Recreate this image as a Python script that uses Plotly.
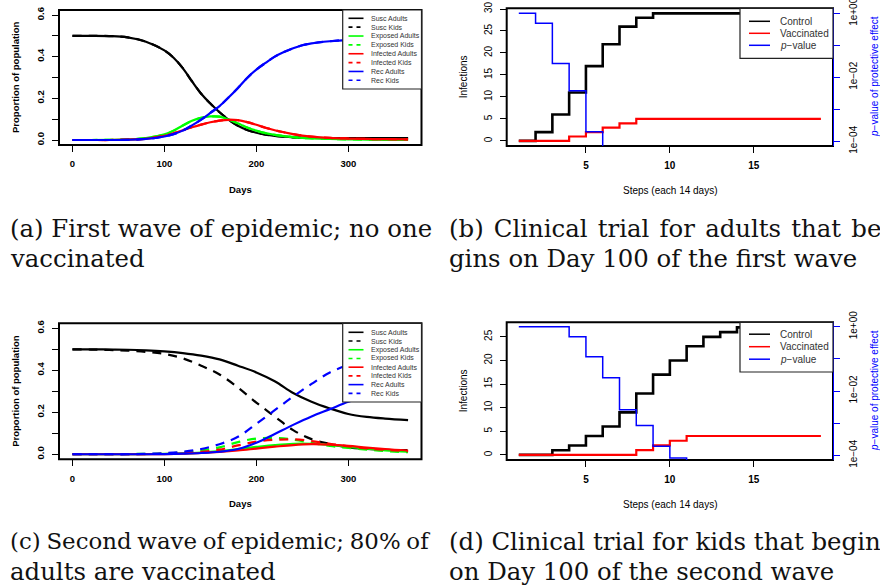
import plotly.graph_objects as go

W, H = 880, 586

# ---------------- data ----------------
# Panel (a): first wave, no one vaccinated (kids identical to adults)
days_a = [0, 20, 40, 60, 80, 100, 110, 120, 130, 140, 150, 160, 170, 180, 190,
          200, 210, 220, 230, 240, 250, 260, 280, 300, 320, 340, 365]
susc_a = [0.500, 0.500, 0.499, 0.493, 0.472, 0.430, 0.395, 0.345, 0.282, 0.222, 0.175,
          0.133, 0.097, 0.068, 0.048, 0.035, 0.026, 0.020, 0.016, 0.013, 0.011, 0.010,
          0.009, 0.009, 0.009, 0.009, 0.009]
expo_a = [0.0, 0.0, 0.001, 0.003, 0.009, 0.027, 0.045, 0.070, 0.092, 0.106, 0.113,
          0.112, 0.098, 0.080, 0.060, 0.045, 0.033, 0.025, 0.019, 0.014, 0.010, 0.008,
          0.005, 0.003, 0.002, 0.001, 0.001]
infe_a = [0.0, 0.0, 0.0, 0.002, 0.006, 0.020, 0.032, 0.047, 0.061, 0.074, 0.085,
          0.093, 0.097, 0.095, 0.086, 0.073, 0.059, 0.047, 0.037, 0.028, 0.021, 0.016,
          0.010, 0.007, 0.005, 0.004, 0.003]
rec_a = [0.0, 0.0, 0.0, 0.001, 0.005, 0.017, 0.028, 0.045, 0.070, 0.098, 0.130,
         0.163, 0.205, 0.250, 0.298, 0.338, 0.370, 0.400, 0.422, 0.440, 0.455, 0.464,
         0.474, 0.481, 0.485, 0.488, 0.490]

# Panel (c): second wave, 80% of adults vaccinated
days_c = [0, 20, 40, 60, 80, 100, 120, 140, 160, 180, 200, 220, 240, 260, 280, 300, 320, 340, 365]
susc_ad_c = [0.500, 0.500, 0.499, 0.498, 0.495, 0.490, 0.482, 0.470, 0.452, 0.422, 0.390,
             0.348, 0.292, 0.250, 0.218, 0.192, 0.178, 0.170, 0.163]
susc_kd_c = [0.500, 0.499, 0.497, 0.494, 0.488, 0.478, 0.457, 0.422, 0.380, 0.318, 0.246,
             0.180, 0.115, 0.072, 0.049, 0.033, 0.025, 0.021, 0.020]
expo_ad_c = [0.0, 0.0, 0.0, 0.0, 0.001, 0.002, 0.004, 0.008, 0.015, 0.025, 0.035,
             0.044, 0.050, 0.050, 0.045, 0.035, 0.027, 0.019, 0.013]
expo_kd_c = [0.0, 0.0, 0.0, 0.001, 0.002, 0.004, 0.009, 0.018, 0.033, 0.058, 0.075,
             0.078, 0.070, 0.055, 0.040, 0.030, 0.022, 0.015, 0.010]
infe_ad_c = [0.0, 0.0, 0.0, 0.0, 0.0, 0.001, 0.003, 0.006, 0.011, 0.018, 0.027,
             0.036, 0.044, 0.048, 0.046, 0.040, 0.032, 0.025, 0.018]
infe_kd_c = [0.0, 0.0, 0.0, 0.0, 0.001, 0.002, 0.005, 0.011, 0.022, 0.042, 0.060,
             0.069, 0.071, 0.063, 0.050, 0.038, 0.028, 0.021, 0.015]
rec_ad_c = [0.0, 0.0, 0.0, 0.0, 0.0, 0.001, 0.003, 0.006, 0.012, 0.025, 0.055,
            0.097, 0.140, 0.180, 0.215, 0.250, 0.280, 0.300, 0.316]
rec_kd_c = [0.0, 0.0, 0.0, 0.0, 0.002, 0.005, 0.012, 0.025, 0.048, 0.083, 0.145,
            0.210, 0.275, 0.335, 0.390, 0.425, 0.448, 0.460, 0.465]

# Panel (b): trial for adults, day 100 of first wave
steps = list(range(1, 20))
control_b = [0, 2, 6, 11, 17, 22, 26, 28, 29, 29, 29, 29, 29, 29, 29, 29, 29, 29, 29]
vacc_b = [0, 0, 0, 1, 2, 3, 4, 5, 5, 5, 5, 5, 5, 5, 5, 5, 5, 5, 5]
pstep_b = [1, 2, 3, 4, 5, 6]
pval_b = [1.0, 0.49, 0.027, 0.0038, 0.0002, 0.00001]

# Panel (d): trial for kids, day 100 of second wave
control_d = [0, 0, 1, 2, 4, 6, 9, 13, 17, 20, 23, 25, 26, 27, 27, 27, 27, 27, 27]
vacc_d = [0, 0, 0, 0, 0, 0, 0, 1, 2, 3, 4, 4, 4, 4, 4, 4, 4, 4, 4]
pstep_d = [1, 2, 3, 4, 5, 6, 7, 8, 9, 10, 11]
pval_d = [1.0, 1.0, 1.0, 0.49, 0.117, 0.026, 0.0026, 0.00085, 0.00019, 0.000083, 0.00001]

prop_ticks = [0, 0.1, 0.2, 0.3, 0.4, 0.5, 0.6]
prop_text = ['0.0', '', '0.2', '', '0.4', '', '0.6']
day_ticks = [0, 100, 200, 300]
step_ticks = [5, 10, 15]
pv_ticks = [1, 0.1, 0.01, 0.001, 0.0001]
pv_text = ['1e+00', '', '1e\u221202', '', '1e\u221204']

sir_legend = ['Susc Adults', 'Susc Kids', 'Exposed Adults', 'Exposed Kids',
              'Infected Adults', 'Infected Kids', 'Rec Adults', 'Rec Kids']
trial_legend = ['Control', 'Vaccinated', '<i>p</i>\u2212value']

captions = {
    'a': ['(a) First wave of epidemic; no one', 'vaccinated'],
    'b': ['(b) Clinical trial for adults that be-', 'gins on Day 100 of the first wave'],
    'c': ['(c) Second wave of epidemic; 80% of', 'adults are vaccinated'],
    'd': ['(d) Clinical trial for kids that begin', 'on Day 100 of the second wave'],
}
# inter-word space used to mimic the justified first caption lines
cap_space = {'a': ' ', 'b': ' \u200a', 'c': '\u2005', 'd': ' '}
cap_size1 = {'a': 24.4, 'b': 24.4, 'c': 22.9, 'd': 24.4}

# ---------------- styles ----------------
BLACK, RED, GREEN, BLUE = '#000000', '#ff0000', '#00ff00', '#0000ff'
SANS = 'Liberation Sans, Arial, sans-serif'
SERIF = 'DejaVu Serif, serif'
DASH = '9px,7px'


def dx(l, r):
    return [l / W, r / W]


def dy(t, b):
    return [1 - b / H, 1 - t / H]


fig = go.Figure()

# ---- panel (a) ----
sir_colors = [BLACK, BLACK, GREEN, GREEN, RED, RED, BLUE, BLUE]
series_a = [susc_a, susc_a, expo_a, expo_a, infe_a, infe_a, rec_a, rec_a]
for i, ys in enumerate(series_a):
    fig.add_trace(go.Scatter(x=days_a, y=ys, mode='lines', xaxis='x', yaxis='y',
                             line=dict(color=sir_colors[i], width=2.2, shape='spline',
                                       dash='solid' if i % 2 == 0 else DASH),
                             showlegend=False, hoverinfo='skip'))

# ---- panel (c) ----
series_c = [susc_ad_c, susc_kd_c, expo_ad_c, expo_kd_c, infe_ad_c, infe_kd_c, rec_ad_c, rec_kd_c]
for i, ys in enumerate(series_c):
    fig.add_trace(go.Scatter(x=days_c, y=ys, mode='lines', xaxis='x3', yaxis='y4',
                             line=dict(color=sir_colors[i], width=2.2, shape='spline',
                                       dash='solid' if i % 2 == 0 else DASH),
                             showlegend=False, hoverinfo='skip'))

# ---- panel (b) ----
fig.add_trace(go.Scatter(x=steps, y=control_b, mode='lines', xaxis='x2', yaxis='y2',
                         line=dict(color=BLACK, width=2.6, shape='hv'), showlegend=False))
fig.add_trace(go.Scatter(x=steps, y=vacc_b, mode='lines', xaxis='x2', yaxis='y2',
                         line=dict(color=RED, width=2.2, shape='hv'), showlegend=False))
fig.add_trace(go.Scatter(x=pstep_b, y=pval_b, mode='lines', xaxis='x2', yaxis='y3',
                         line=dict(color=BLUE, width=1.5, shape='hv'), showlegend=False))

# ---- panel (d) ----
fig.add_trace(go.Scatter(x=steps, y=control_d, mode='lines', xaxis='x4', yaxis='y5',
                         line=dict(color=BLACK, width=2.6, shape='hv'), showlegend=False))
fig.add_trace(go.Scatter(x=steps, y=vacc_d, mode='lines', xaxis='x4', yaxis='y5',
                         line=dict(color=RED, width=2.2, shape='hv'), showlegend=False))
fig.add_trace(go.Scatter(x=pstep_d, y=pval_d, mode='lines', xaxis='x4', yaxis='y6',
                         line=dict(color=BLUE, width=1.5, shape='hv'), showlegend=False))

common = dict(showgrid=False, zeroline=False, showline=False,
              ticks='outside', ticklen=6, tickwidth=1.2, tickcolor=BLACK,
              automargin=False, ticklabelstandoff=4)
bold9 = dict(family=SANS, size=9.5, color=BLACK, weight='bold')
reg10 = dict(family=SANS, size=10, color=BLACK)
bold10 = dict(family=SANS, size=10, color=BLACK, weight='bold')
right_common = dict(showgrid=False, zeroline=False, showline=True, linecolor=BLUE, linewidth=1.2,
                    ticks='outside', ticklen=6, tickwidth=1.2, tickcolor=BLUE, automargin=False,
                    ticklabelstandoff=5, ticklabeloverflow='allow')

layout = dict(
    width=W, height=H, margin=dict(l=0, r=0, t=0, b=0, autoexpand=False),
    paper_bgcolor='white', plot_bgcolor='white', showlegend=False,
    xaxis=dict(domain=dx(59, 421.5), range=[-14.6, 379.6], anchor='y', tickvals=day_ticks,
               tickfont=bold9, **common),
    yaxis=dict(domain=dy(10, 145), range=[-0.024, 0.624], anchor='x', tickvals=prop_ticks,
               ticktext=prop_text, tickangle=-90, tickfont=bold9, **common),
    xaxis3=dict(domain=dx(59, 421.5), range=[-14.6, 379.6], anchor='y4', tickvals=day_ticks,
                tickfont=bold9, **common),
    yaxis4=dict(domain=dy(323.3, 459.3), range=[-0.024, 0.624], anchor='x3', tickvals=prop_ticks,
                ticktext=prop_text, tickangle=-90, tickfont=bold9, **common),
    xaxis2=dict(domain=dx(506.7, 833), range=[0.28, 19.72], anchor='y2', tickvals=step_ticks,
                tickfont=bold10, **common),
    yaxis2=dict(domain=dy(8.3, 146), range=[-1.16, 30.16], anchor='x2',
                tickvals=[0, 5, 10, 15, 20, 25, 30], tickangle=-90, tickfont=reg10, **common),
    yaxis3=dict(overlaying='y2', anchor='x2', side='right', type='log', range=[-4.147, 0.156],
                tickvals=pv_ticks, ticktext=pv_text, tickangle=-90, tickfont=reg10,
                **right_common),
    xaxis4=dict(domain=dx(506.7, 833), range=[0.28, 19.72], anchor='y5', tickvals=step_ticks,
                tickfont=bold10, **common),
    yaxis5=dict(domain=dy(322.3, 460), range=[-1.08, 28.08], anchor='x4',
                tickvals=[0, 5, 10, 15, 20, 25], tickangle=-90, tickfont=reg10, **common),
    yaxis6=dict(overlaying='y5', anchor='x4', side='right', type='log', range=[-4.146, 0.137],
                tickvals=pv_ticks, ticktext=pv_text, tickangle=-90, tickfont=reg10,
                **right_common),
)
fig.update_layout(**layout)

annotations = []
shapes = []

# plot frames
for xa, ya in [('x', 'y'), ('x2', 'y2'), ('x3', 'y4'), ('x4', 'y5')]:
    shapes.append(dict(type='rect', xref=xa + ' domain', yref=ya + ' domain', x0=0, x1=1,
                       y0=0, y1=1, line=dict(color=BLACK, width=2), layer='below'))


def text(x, y, s, font, angle=0, xanchor='center'):
    annotations.append(dict(x=x / W, y=1 - y / H, xref='paper', yref='paper', text=s,
                            showarrow=False, font=font, textangle=angle,
                            xanchor=xanchor, yanchor='middle'))


# axis titles
for (ty, cy) in [(189.5, 77.5), (503, 391.3)]:
    text(240.3, ty, 'Days', bold9)
    text(15.5, cy, 'Proportion of population', bold9, angle=-90)
for (ty, cy) in [(190.7, 77), (504, 391)]:
    text(670, ty, 'Steps (each 14 days)', reg10)
    text(463.3, cy, 'Infections', reg10, angle=-90)
    text(874, cy, '<i>p</i>\u2212value of protective effect',
         dict(family=SANS, size=10, color=BLUE), angle=-90)


def legend(box, labels, colors, dashes, y0, dy_, lx0, lx1, tx, fsize, lw, dashpat):
    l, t, r, b = box
    shapes.append(dict(type='rect', xref='paper', yref='paper', x0=l / W, x1=r / W,
                       y0=1 - b / H, y1=1 - t / H, fillcolor='white',
                       line=dict(color='#222222', width=1.2), layer='above'))
    for i, lab in enumerate(labels):
        yy = y0 + i * dy_
        shapes.append(dict(type='line', xref='paper', yref='paper', x0=lx0 / W, x1=lx1 / W,
                           y0=1 - yy / H, y1=1 - yy / H, layer='above',
                           line=dict(color=colors[i], width=lw,
                                     dash=dashpat if dashes[i] else 'solid')))
        text(tx, yy, lab, dict(family=SANS, size=fsize, color='#333333'), xanchor='left')


sir_dash = [False, True] * 4
legend((342.7, 10, 421.5, 89), sir_legend, sir_colors, sir_dash, 18.3, 8.86,
       348.5, 363.5, 368.5, 7, 1.6, '4px,4px')
legend((342.7, 323.3, 421.5, 402), sir_legend, sir_colors, sir_dash, 332.3, 8.72,
       348.5, 363.5, 368.5, 7, 1.6, '4px,4px')
legend((740, 8.3, 833, 58.3), trial_legend, [BLACK, RED, BLUE], [False] * 3, 21.3, 12,
       749, 770, 777.5, 10, 1.5, 'solid')
legend((740, 322.3, 833, 372), trial_legend, [BLACK, RED, BLUE], [False] * 3, 334.2, 12.5,
       749, 770, 777.5, 10, 1.5, 'solid')

# captions
for key, x, y1 in [('a', 8, 228), ('b', 447, 228), ('c', 8, 541), ('d', 447, 541)]:
    l1, l2 = captions[key]
    text(x, y1, l1.replace(' ', cap_space[key]),
         dict(family=SERIF, size=cap_size1[key], color='#111111'), xanchor='left')
    text(x, y1 + 30.5, l2, dict(family=SERIF, size=24.4, color='#111111'), xanchor='left')

fig.update_layout(annotations=annotations, shapes=shapes)
fig.write_html('out.html', config={'displayModeBar': False},
               post_script="document.body.style.margin='0px';document.body.style.overflow='hidden';")
